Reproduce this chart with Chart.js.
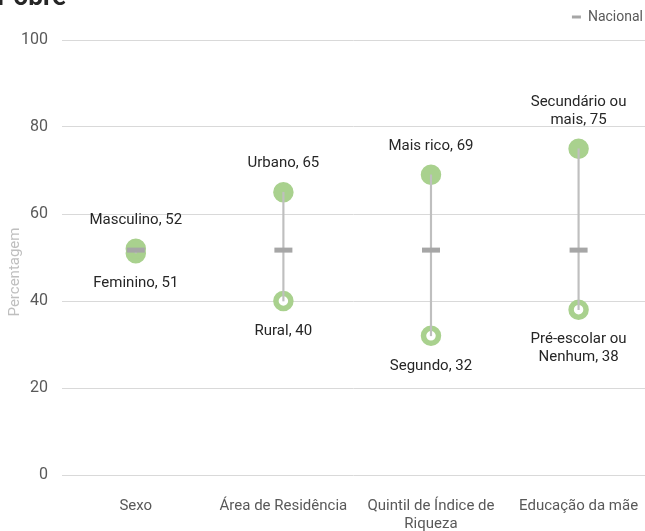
<!DOCTYPE html>
<html lang="pt">
<head>
<meta charset="UTF-8">
<title>Pobre</title>
<script src="https://cdn.jsdelivr.net/npm/chart.js"></script>
<style>
    body { margin: 0; background: #fff; overflow: hidden; }
    #wrap { width: 645px; height: 531px; position: relative; }
</style>
</head>
<body>
<div id="wrap"><canvas id="myChart"></canvas></div>
<script>
// categories on the x axis ('\n' = line break)
const categories = ['Sexo', 'Área de Residência', 'Quintil de Índice de\nRiqueza', 'Educação da mãe'];
// highest group in each category
const highNames = ['Masculino', 'Urbano', 'Mais rico', 'Secundário ou\nmais'];
const highValues = [52, 65, 69, 75];
// lowest group in each category
const lowNames = ['Feminino', 'Rural', 'Segundo', 'Pré-escolar ou\nNenhum'];
const lowValues = [51, 40, 32, 38];
// national value
const nationalValues = [51.7, 51.7, 51.7, 51.7];
const yTicks = [0, 20, 40, 60, 80, 100];

const GREEN = '#a9d18e';
const FONT = 'Roboto, "Liberation Sans", sans-serif';

const pts = (vals) => vals.map((v, i) => ({ x: i, y: v }));

// title that is cut off at the top, and point labels
const labelPlugin = {
    id: 'labelPlugin',
    afterDatasetsDraw(chart) {
        const ctx = chart.ctx;
        const xs = chart.scales.x, ys = chart.scales.y;
        ctx.save();
        ctx.font = '15px ' + FONT;
        ctx.fillStyle = '#262626';
        ctx.textAlign = 'center';
        ctx.textBaseline = 'middle';
        const lh = 18;
        highValues.forEach((v, i) => {
            const lines = (highNames[i] + ', ' + v).split('\n');
            const x = xs.getPixelForValue(i), y = ys.getPixelForValue(v) - 29;
            lines.forEach((t, k) => ctx.fillText(t, x, y - (lines.length - 1 - k) * lh));
        });
        lowValues.forEach((v, i) => {
            const lines = (lowNames[i] + ', ' + v).split('\n');
            const x = xs.getPixelForValue(i), y = ys.getPixelForValue(v) + 30;
            lines.forEach((t, k) => ctx.fillText(t, x, y + k * lh));
        });
        ctx.font = 'bold 26px ' + FONT;
        ctx.textAlign = 'left';
        ctx.textBaseline = 'alphabetic';
        ctx.fillText('Pobre', -3, 5);
        // axis title, a little below the middle of the axis
        ctx.translate(15, 272);
        ctx.rotate(-Math.PI / 2);
        ctx.textAlign = 'center';
        ctx.textBaseline = 'middle';
        ctx.font = '15px ' + FONT;
        ctx.fillStyle = '#bfbfbf';
        ctx.fillText('Percentagem', 0, 0);
        ctx.restore();
    }
};

const ctx = document.getElementById('myChart').getContext('2d');
new Chart(ctx, {
    type: 'scatter',
    data: {
        datasets: [
            {
                label: 'Intervalo',
                type: 'bar',
                data: lowValues.map((v, i) => ({ x: i, y: [v, highValues[i]] })),
                backgroundColor: '#bfbfbf',
                barThickness: 1.5,
                order: 2
            },
            {
                label: 'Mínimo',
                data: pts(lowValues),
                pointRadius: 7.5,
                pointBorderWidth: 5.5,
                pointBackgroundColor: '#ffffff',
                pointBorderColor: GREEN,
                order: 4
            },
            {
                label: 'Máximo',
                data: pts(highValues),
                pointRadius: 9.5,
                pointBorderWidth: 1.5,
                pointBackgroundColor: GREEN,
                pointBorderColor: GREEN,
                order: 3
            },
            {
                label: 'Nacional',
                data: pts(nationalValues),
                pointStyle: 'line',
                pointRadius: 9,
                pointBorderWidth: 5,
                borderColor: '#a6a6a6',
                backgroundColor: '#a6a6a6',
                order: 1
            }
        ]
    },
    options: {
        responsive: true,
        maintainAspectRatio: false,
        animation: false,
        layout: { autoPadding: false, padding: { top: 0, left: 0, right: -8, bottom: 0 } },
        plugins: {
            tooltip: { enabled: false },
            legend: {
                position: 'top',
                align: 'end',
                labels: {
                    usePointStyle: true,
                    pointStyleWidth: 9,
                    boxHeight: 10,
                    padding: 10,
                    color: '#595959',
                    font: { family: FONT, size: 14 },
                    generateLabels: (chart) => Chart.defaults.plugins.legend.labels.generateLabels(chart)
                        .filter(l => l.text === 'Nacional')
                        .map(l => ({ ...l, lineWidth: 3 }))
                }
            },
            // empty spacer between legend and plot
            subtitle: {
                display: true,
                text: '',
                weight: 500,
                padding: 0,
                font: { size: 6, lineHeight: 1 }
            }
        },
        scales: {
            x: {
                type: 'linear',
                offset: false,
                min: -0.5,
                max: 3.45,
                grid: { display: false, offset: false, drawTicks: false },
                border: { display: false },
                afterBuildTicks: (scale) => { scale.ticks = categories.map((c, i) => ({ value: i })); },
                afterFit: (scale) => { scale.height = 56; scale.paddingLeft = 0; scale.paddingRight = 0; },
                ticks: {
                    padding: 22,
                    maxRotation: 0,
                    autoSkip: false,
                    color: '#595959',
                    font: { family: FONT, size: 15 },
                    callback: (v) => categories[v] !== undefined ? categories[v].split('\n') : ''
                }
            },
            y: {
                min: 0,
                max: 100,
                afterBuildTicks: (scale) => { scale.ticks = yTicks.map(v => ({ value: v })); },
                afterFit: (scale) => { scale.width = 62; },
                grid: { color: '#d9d9d9', drawTicks: false },
                border: { display: false },
                ticks: {
                    padding: 14,
                    color: '#595959',
                    font: { family: FONT, size: 16 }
                }
            }
        }
    },
    plugins: [labelPlugin]
});
</script>
</body>
</html>
